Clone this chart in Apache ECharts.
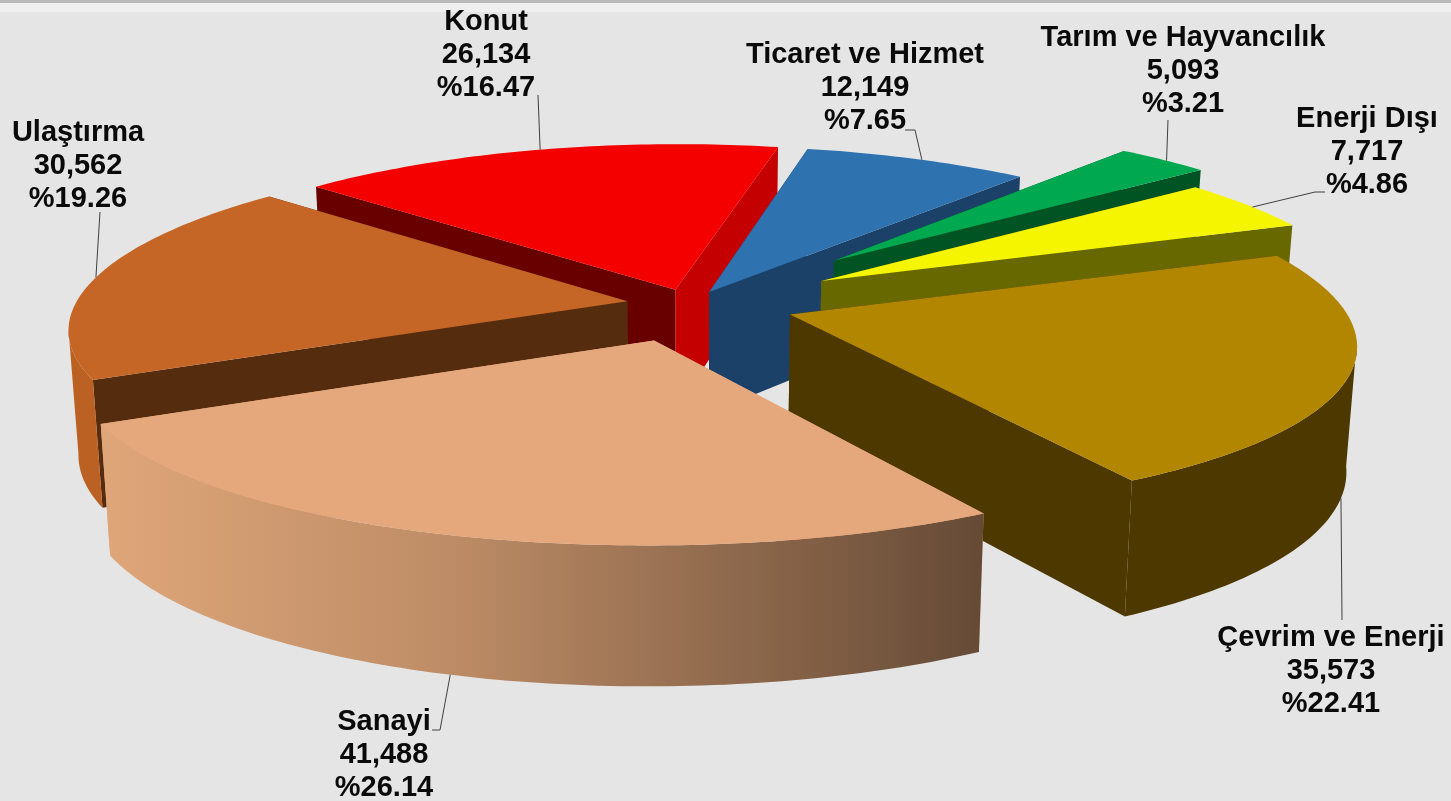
<!DOCTYPE html>
<html><head><meta charset="utf-8">
<style>html,body{margin:0;padding:0;background:#e5e5e5}#c{width:1451px;height:801px}</style>
<script src="https://cdn.jsdelivr.net/npm/echarts@6/dist/echarts.min.js"></script>
</head><body><div id="c"></div>
<script>
// ---- data, clockwise from the back-left edge of the Konut slice ----
const categories = ['Konut','Ticaret ve Hizmet','Tarım ve Hayvancılık','Enerji Dışı','Çevrim ve Enerji','Sanayi','Ulaştırma'];
const values     = [26134, 12149, 5093, 7717, 35573, 41488, 30562];
const explode    = [0.09, 0.08, 0.38, 0.28, 0.19, 0.22, 0.115];
const topColors  = ['#F50000','#2E72AF','#00A84F','#F5F500','#B38600','#E5A77C','#C66626'];
const wallStart  = ['#690000','#1B4168','#005323','#686800','#4D3800','#E5A77C','#562C0E'];
const wallEnd    = ['#C40000','#1B4168','#005323','#686800','#4D3800','#654A36','#562C0E'];
const rimColors  = ['#690000','#1B4168','#005323','#686800','#4D3800',null,'#BC6124'];
const drawOrder  = [0,1,2,3,6,4,5];
// label centre, first-line y; leader: position on the slice arc (0..1), on bottom rim?, path end
const labelX     = [486, 865, 1183, 1367, 1331, 384, 78];
const labelY     = [22, 55, 38, 119, 638, 722, 133];
const leaderFrac = [0.51, 0.52, 0.54, 0.55, 0.49, 0.508, 0.5];
const leaderRim  = [0,0,0,0,1,1,0];
const leaderEnd  = [[[538,95]],[[915,130],[905,130]],[[1168,120]],[[1315,192],[1325,192]],[[1342,620]],[[440,730],[432,730]],[[100,212]]];

const START = -47, CX = 690, CY = 304, R = 552, RY = 168, KX = 0.155, KY = 0.13, H = 122, SHRINK = 0.016, SILHOUETTE = 0.15;
const total = values.reduce((a,b)=>a+b,0);
const rad = d => d*Math.PI/180;
const spans = []; { let a = START; values.forEach(v=>{ const d=v/total*360; spans.push([a,a+d]); a+=d; }); }

function project(u,v,z){
  const sx = 1/(1-KX*v), sy = 1/(1-KY*v), f = 1-SHRINK*z;
  return [CX+R*u*sx*f, CY+RY*v*sy*f + H*sy*z];
}
function rimPoint(i,deg,z){
  const [a,b]=spans[i], mid=rad((a+b)/2), e=explode[i], t=rad(deg);
  return project(e*Math.sin(mid)+Math.sin(t), -e*Math.cos(mid)-Math.cos(t), z);
}
function apex(i,z){
  const [a,b]=spans[i], mid=rad((a+b)/2), e=explode[i];
  return project(e*Math.sin(mid), -e*Math.cos(mid), z);
}
function arcDegrees(a,b){ const out=[]; const n=Math.max(2,Math.ceil((b-a)/1)); for(let j=0;j<=n;j++) out.push(a+(b-a)*j/n); return out; }

function renderSlice(params){
  const i = drawOrder[params.dataIndex], [a,b]=spans[i], kids=[];
  const poly=(pts,fill)=>kids.push({type:'polygon',shape:{points:pts},style:{fill,stroke:null}});
  // radial walls
  poly([apex(i,0),rimPoint(i,a,0),rimPoint(i,a,1),apex(i,1)],wallStart[i]);
  poly([apex(i,0),rimPoint(i,b,0),rimPoint(i,b,1),apex(i,1)],i===0?wallEnd[i]:wallStart[i]);
  // outer wall, only the part facing the viewer
  const front=arcDegrees(a,b).filter(d=>-Math.cos(rad(d))>SILHOUETTE);
  if(front.length>1){
    const fill = rimColors[i] || new echarts.graphic.LinearGradient(0,0,1,0,[
      {offset:0,color:'#DFA679'},{offset:0.4,color:'#BD8C66'},{offset:1,color:wallEnd[i]}]);
    poly(front.map(d=>rimPoint(i,d,0)).concat(front.slice().reverse().map(d=>rimPoint(i,d,1))),fill);
  }
  // top
  poly([apex(i,0)].concat(arcDegrees(a,b).map(d=>rimPoint(i,d,0))),topColors[i]);
  return {type:'group',children:kids};
}
function renderLabel(params){
  const i=params.dataIndex, kids=[];
  const deg=spans[i][0]+(spans[i][1]-spans[i][0])*leaderFrac[i];
  kids.push({type:'polyline',shape:{points:[rimPoint(i,deg,leaderRim[i])].concat(leaderEnd[i])},style:{stroke:'#404040',lineWidth:1,fill:null}});
  const lines=[categories[i],values[i].toLocaleString('en-US'),'%'+(values[i]/total*100).toFixed(2)];
  lines.forEach((t,j)=>kids.push({type:'text',style:{text:t,x:labelX[i],y:labelY[i]+j*33,align:'center',verticalAlign:'middle',
    font:'bold 29px "Liberation Sans", Arial, sans-serif',fill:'#0a0a0a'}}));
  return {type:'group',children:kids};
}
const chart=echarts.init(document.getElementById('c'),null,{renderer:'canvas'});
chart.setOption({
  animation:false,
  backgroundColor:'#E5E5E5',
  graphic:[
    {type:'rect',shape:{x:0,y:0,width:1451,height:3},style:{fill:'#B9B9B9'},z:0},
    {type:'rect',shape:{x:0,y:3,width:1451,height:9},style:{fill:'#EFEFEF'},z:0}
  ],
  series:[
    {type:'custom',coordinateSystem:'none',renderItem:renderSlice,z:2,silent:true,
     data:drawOrder.map(i=>({name:categories[i],value:values[i]}))},
    {type:'custom',coordinateSystem:'none',renderItem:renderLabel,z:3,silent:true,
     data:categories.map((c,i)=>({name:c,value:values[i]}))}
  ]
});
</script></body></html>
